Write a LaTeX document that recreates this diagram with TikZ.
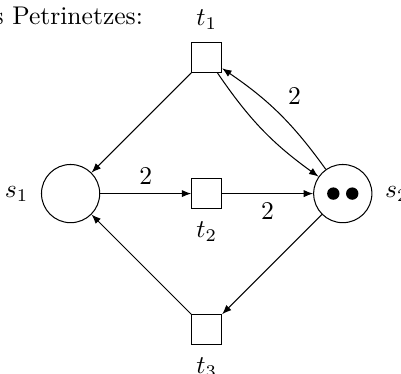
\documentclass[tikz,border=0pt]{standalone}
\usepackage{tikz}
\usetikzlibrary{positioning,arrows.meta}

\begin{document}
\begin{tikzpicture}[x=1mm,y=1mm,
  pl/.style={circle,draw,line width=0.4pt,minimum size=8mm,inner sep=0pt},
  tr/.style={rectangle,draw,line width=0.4pt,minimum size=4.1mm,inner sep=0pt},
  tok/.style={circle,fill=black,minimum size=1.7mm,inner sep=0pt},
  flow/.style={-{Latex[length=1.3mm,width=1mm]},line width=0.4pt},
  every label/.style={label distance=0.5mm}]
  \useasboundingbox (-9.7,-24.7) rectangle (45.4,26.6);
  \node[anchor=base west,inner sep=0pt] (title) at (-10.63,23.2) {s Petrinetzes:};
  % places
  \node[pl,label=left:$s_1$] (s1) at (0,0) {};
  \node[pl,label=right:$s_2$] (s2) at (37.4,0) {};
  \node[tok] (k1) at ([xshift=-1.3mm]s2.center) {};
  \node[tok] (k2) at ([xshift=1.3mm]s2.center) {};
  % transitions
  \node[tr,label=above:$t_1$] (t1) at (18.7,18.7) {};
  \node[tr,label=below:$t_2$] (t2) at (18.7,0) {};
  \node[tr,label=below:$t_3$] (t3) at (18.7,-18.7) {};
  % arcs
  \draw[flow] (t1) -- (s1);
  \draw[flow] (t3) -- (s1);
  \draw[flow] (s1) -- node[above]{2} (t2);
  \draw[flow] (t2) -- node[below]{2} (s2);
  \draw[flow] (s2) -- (t3);
  \draw[flow] (t1) to[bend right=10] (s2);
  \draw[flow] (s2) to[bend right=10] node[above right]{2} (t1);
\end{tikzpicture}
\end{document}
